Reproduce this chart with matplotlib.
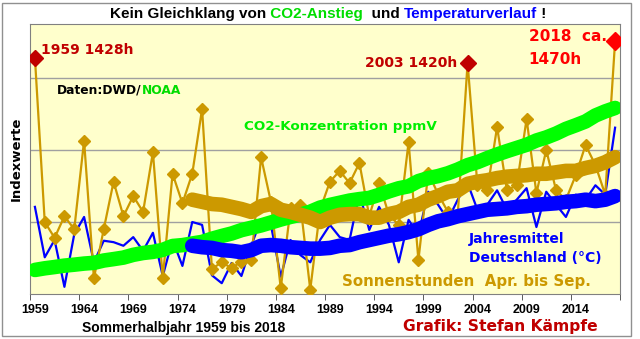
import numpy as np
import matplotlib.pyplot as plt
from matplotlib.patches import Rectangle

plt.rcParams['font.family'] = ['DejaVu Sans']

years = np.arange(1959, 2019)
smooth_years = np.arange(1975, 2019)

# Sonnenstunden Apr.-Sep. (Indexwerte)
sunshine = [3.28, 1.00, 0.78, 1.08, 0.90, 2.13, 0.22, 0.90, 1.56, 1.08,
            1.36, 1.14, 1.97, 0.22, 1.67, 1.26, 1.67, 2.57, 0.35, 0.44,
            0.36, 0.45, 0.47, 1.90, 1.28, 0.08, 1.19, 1.24, 0.06, 1.17,
            1.56, 1.71, 1.54, 1.82, 1.08, 1.54, 1.10, 0.96, 2.11, 0.47,
            1.68, 1.39, 1.14, 1.10, 3.21, 1.51, 1.44, 2.32, 1.44, 1.51,
            2.43, 1.40, 2.00, 1.44, 1.31, 1.65, 2.07, 1.79, 1.38, 3.51]

# Temperatur Sommerhalbjahr (Indexwerte)
temperature = [1.21, 0.51, 0.75, 0.10, 0.83, 1.07, 0.44, 0.74, 0.72, 0.67,
               0.79, 0.60, 0.85, 0.25, 0.75, 0.39, 1.00, 0.96, 0.26, 0.15,
               0.43, 0.25, 0.67, 1.04, 0.96, 0.24, 0.75, 0.54, 0.44, 0.75,
               0.96, 0.79, 0.75, 1.40, 0.89, 1.21, 0.96, 0.44, 1.03, 0.82,
               1.42, 1.24, 1.03, 1.31, 1.54, 1.17, 1.24, 1.44, 1.17, 1.31,
               1.47, 0.93, 1.42, 1.24, 1.07, 1.38, 1.31, 1.51, 1.38, 2.31]

# CO2 ppmV (NOAA)
co2 = [315.97, 316.91, 317.64, 318.45, 318.99, 319.62, 320.04, 321.37, 322.18, 323.05,
       324.62, 325.68, 326.32, 327.46, 329.68, 330.19, 331.12, 332.03, 333.84, 335.41,
       336.84, 338.76, 340.12, 341.48, 343.15, 344.85, 346.35, 347.61, 349.31, 351.69,
       353.20, 354.45, 355.70, 356.54, 357.21, 358.96, 360.97, 362.74, 363.88, 366.84,
       368.54, 369.71, 371.32, 373.45, 375.98, 377.70, 379.98, 382.09, 384.02, 385.83,
       387.64, 390.10, 391.85, 394.06, 396.74, 398.81, 401.01, 404.41, 406.76, 408.72]

# geglaettete Kurven ab 1975
sunshine_smooth = [1.31, 1.28, 1.25, 1.24, 1.21, 1.18, 1.14, 1.22, 1.25, 1.17,
                   1.14, 1.10, 1.06, 1.00, 1.06, 1.10, 1.11, 1.11, 1.06, 1.06,
                   1.11, 1.14, 1.21, 1.24, 1.31, 1.36, 1.42, 1.44, 1.53, 1.56,
                   1.58, 1.61, 1.63, 1.64, 1.65, 1.67, 1.67, 1.69, 1.71, 1.71,
                   1.75, 1.78, 1.83, 1.90]
temp_smooth = [0.67, 0.65, 0.64, 0.61, 0.60, 0.58, 0.61, 0.67, 0.68, 0.67,
               0.65, 0.64, 0.63, 0.63, 0.64, 0.67, 0.68, 0.72, 0.75, 0.78,
               0.81, 0.83, 0.86, 0.90, 0.96, 1.01, 1.04, 1.08, 1.11, 1.14,
               1.17, 1.18, 1.19, 1.21, 1.22, 1.24, 1.25, 1.26, 1.28, 1.29,
               1.31, 1.29, 1.31, 1.36]

gold = '#CC9900'
blue = '#0000FF'
green = '#00FF00'
darkred = '#C00000'
red = '#FF0000'

fig = plt.figure(figsize=(6.4, 3.39), dpi=100)
fig.patches.append(Rectangle((2 / 640, 3 / 339), 629 / 640, 333 / 339, transform=fig.transFigure,
                             fill=False, edgecolor='#909090', lw=1))

ax = fig.add_axes([30 / 640, 45 / 339, 590 / 640, 270 / 339])
ax.set_facecolor('#FFFFCC')
ax.set_xlim(1958.5, 2018.5)
ax.set_ylim(0, 3.75)
ax.set_yticks([1, 2, 3])
ax.yaxis.grid(True, color='#A0A0A0', lw=1)
ax.tick_params(axis='y', length=0, labelleft=False)
for s in ax.spines.values():
    s.set_color('#808080')

ax.set_xticks(np.arange(1959, 2018, 5))
ax.set_xticks(np.arange(1958.5, 2019, 5), minor=True)
ax.tick_params(axis='x', which='major', length=0, pad=7)
ax.tick_params(axis='x', which='minor', length=4, color='#404040')
for lab in ax.get_xticklabels():
    lab.set_fontfamily('Liberation Sans')
    lab.set_fontweight('bold')
    lab.set_fontsize(9)

ax.set_ylabel('Indexwerte', fontsize=9.5, fontweight='bold', labelpad=5)

# duenne Linien
ax.plot(years, temperature, color=blue, lw=1.6, zorder=2)
ax.plot(years, sunshine, color=gold, lw=1.6, marker='D', ms=6, zorder=3)

# CO2 auf eigener Skala
ax2 = ax.twinx()
ax2.set_ylim(302.2, 456.8)
ax2.set_yticks([])
ax2.plot(years, co2, color=green, lw=10.5, solid_capstyle='round')

# geglaettete Kurven und Rekordwerte
ax3 = ax.twinx()
ax3.set_ylim(0, 3.75)
ax3.set_yticks([])
ax3.plot(smooth_years, temp_smooth, color=blue, lw=10.5, solid_capstyle='round')
ax3.plot(smooth_years, sunshine_smooth, color=gold, lw=10.5, solid_capstyle='round')
ax3.plot([1959, 2003], [sunshine[0], sunshine[44]], ls='none', marker='D', ms=8, color=darkred)
ax3.plot([2018], [sunshine[-1]], ls='none', marker='D', ms=9, color=red)
for a in (ax2, ax3):
    for s in a.spines.values():
        s.set_visible(False)

ax3.text(1959.6, 3.39, '1959 1428h', color=darkred, fontsize=10, fontweight='bold', va='center')
ax3.text(2001.9, 3.21, '2003 1420h', color=darkred, fontsize=10, fontweight='bold', va='center', ha='right')
ax3.text(2009.2, 3.57, '2018  ca.', color=red, fontsize=11, fontweight='bold', va='center')
ax3.text(2009.2, 3.25, '1470h', color=red, fontsize=11, fontweight='bold', va='center')
t = ax3.text(1961.25, 2.83, 'Daten:DWD/', color='black', fontsize=8.8, fontweight='bold', va='center')
ax3.annotate('NOAA', xy=(1, 0.5), xycoords=t, color='#00DD00', fontsize=8.8, fontweight='bold', va='center')
ax3.text(1980.3, 2.32, 'CO2-Konzentration ppmV', color='#00EE00', fontsize=9.7, fontweight='bold', va='center')
ax3.text(2003.1, 0.76, 'Jahresmittel', color=blue, fontsize=10, fontweight='bold', va='center')
ax3.text(2003.1, 0.50, 'Deutschland (°C)', color=blue, fontsize=10, fontweight='bold', va='center')
ax3.text(1990.2, 0.17, 'Sonnenstunden  Apr. bis Sep.', color=gold, fontsize=10.8, fontweight='bold', va='center')

fig.text(82 / 640, 1 - 328 / 339, 'Sommerhalbjahr 1959 bis 2018', fontsize=10, fontweight='bold',
         family='Liberation Sans', va='center')
fig.text(403 / 640, 1 - 327 / 339, 'Grafik: Stefan Kämpfe', color=darkred, fontsize=11.2, fontweight='bold',
         va='center')

# Titel in mehreren Farben
pieces = [('Kein Gleichklang von', 'black'), (' CO2-Anstieg', '#00DD00'), ('  und ', 'black'),
          ('Temperaturverlauf', blue), (' !', 'black')]
last = fig.text(110 / 640, 1 - 14 / 339, pieces[0][0], color=pieces[0][1], fontsize=11,
                fontweight='bold', family='Liberation Sans', va='center')
for txt, col in pieces[1:]:
    last = ax.annotate(txt, xy=(1, 0.5), xycoords=last, color=col, fontsize=11, family='Liberation Sans',
                       fontweight='bold', va='center', ha='left', annotation_clip=False)

fig.savefig('out.png', dpi=100)
